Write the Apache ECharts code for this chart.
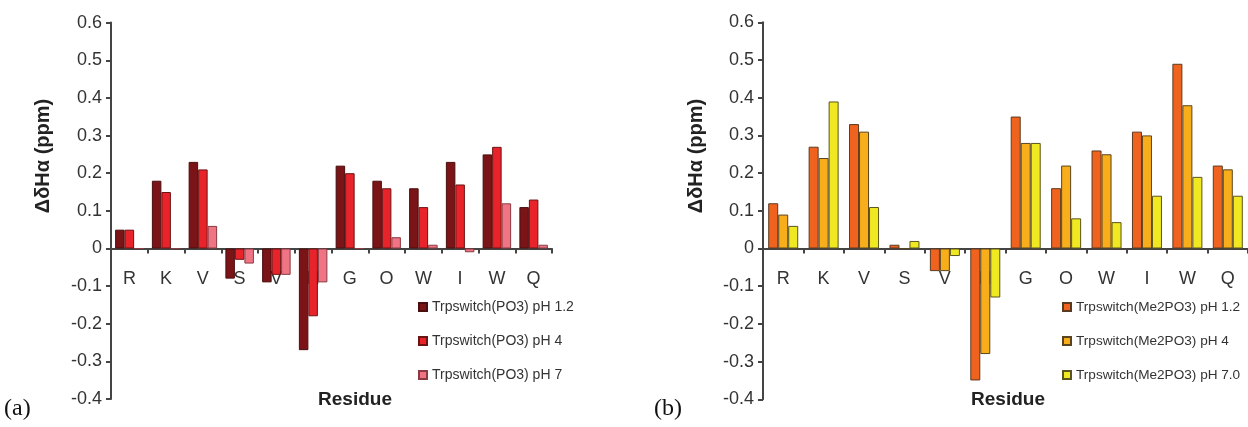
<!DOCTYPE html>
<html>
<head>
<meta charset="utf-8">
<script src="https://cdn.jsdelivr.net/npm/echarts@6/dist/echarts.min.js"></script>
<style>
html,body{margin:0;padding:0;background:#fff;}
#c{width:1248px;height:427px;}
</style>
</head>
<body>
<div id="c"></div>
<script>
var categories = ['R','K','V','S','V','N','G','O','W','I','W','Q'];
var yTicks = { min: -0.4, max: 0.6, interval: 0.1 };

var namesA = ['Trpswitch(PO3) pH 1.2','Trpswitch(PO3) pH 4','Trpswitch(PO3) pH 7'];
var a_pH12 = [0.05,0.18,0.23,-0.08,-0.09,-0.27,0.22,0.18,0.16,0.23,0.25,0.11];
var a_pH4  = [0.05,0.15,0.21,-0.03,-0.07,-0.18,0.20,0.16,0.11,0.17,0.27,0.13];
var a_pH7  = [0,0,0.06,-0.04,-0.07,-0.09,0,0.03,0.01,-0.01,0.12,0.01];

var namesB = ['Trpswitch(Me2PO3) pH 1.2','Trpswitch(Me2PO3) pH 4','Trpswitch(Me2PO3) pH 7.0'];
var b_pH12 = [0.12,0.27,0.33,0.01,-0.06,-0.35,0.35,0.16,0.26,0.31,0.49,0.22];
var b_pH4  = [0.09,0.24,0.31,0,-0.06,-0.28,0.28,0.22,0.25,0.30,0.38,0.21];
var b_pH7  = [0.06,0.39,0.11,0.02,-0.02,-0.13,0.28,0.08,0.07,0.14,0.19,0.14];

var colorsA = ['#7a1416','#e9232a','#ef7585'];
var colorsB = ['#f0631f','#f8ae1a','#f0e820'];

var font = 'Liberation Sans, Arial, sans-serif';
var chart = echarts.init(document.getElementById('c'), null, {renderer:'canvas'});

var grids = [
  {left:111, top:22.6, width:441, height:376.5},
  {left:763, top:22.3, width:492, height:377}
];
function zeroOffset(g){
  return -g.height * (0 - yTicks.min) / (yTicks.max - yTicks.min);
}

function xAx(gi){
  return {
    type:'category', gridIndex:gi, data:categories, position:'bottom',
    offset: zeroOffset(grids[gi]),
    axisLine:{onZero:false, lineStyle:{color:'#444', width:2}},
    axisTick:{show:true, inside:false, length:5, alignWithLabel:false, lineStyle:{color:'#444', width:2}},
    axisLabel:{margin:22, fontSize:18, color:'#333', fontFamily:font, interval:0},
    splitLine:{show:false}
  };
}
function yAx(gi){
  return {
    type:'value', gridIndex:gi, min:yTicks.min, max:yTicks.max, interval:yTicks.interval,
    axisLine:{show:true, lineStyle:{color:'#444', width:2}},
    axisTick:{show:true, length:5, lineStyle:{color:'#444', width:2}},
    axisLabel:{margin:9, fontSize:18, color:'#333', fontFamily:font},
    splitLine:{show:false}
  };
}
function barS(name, data, gi, color, border, bw){
  return {
    name:name, type:'bar', xAxisIndex:gi, yAxisIndex:gi, data:data,
    barWidth:bw, barGap:'0%',
    itemStyle:{color:color, borderColor:border, borderWidth:1},
    emphasis:{disabled:true}, animation:false
  };
}

var option = {
  backgroundColor:'#fff',
  animation:false,
  grid:[
    {left:grids[0].left, top:grids[0].top, width:grids[0].width, height:grids[0].height, containLabel:false},
    {left:grids[1].left, top:grids[1].top, width:grids[1].width, height:grids[1].height, containLabel:false}
  ],
  xAxis:[xAx(0), xAx(1)],
  yAxis:[yAx(0), yAx(1)],
  legend:[
    {data:namesA, orient:'vertical', left:413, top:295, itemWidth:8, itemHeight:8, itemGap:20,
     icon:'rect', textStyle:{fontSize:14, color:'#333', fontFamily:font}, selectedMode:false},
    {data:namesB, orient:'vertical', left:1057, top:295, itemWidth:8, itemHeight:8, itemGap:20,
     icon:'rect', textStyle:{fontSize:13.6, color:'#333', fontFamily:font}, selectedMode:false}
  ],
  series:[
    barS(namesA[0], a_pH12, 0, colorsA[0], '#4a0e0e', 9.5),
    barS(namesA[1], a_pH4, 0, colorsA[1], '#6a1414', 9.5),
    barS(namesA[2], a_pH7, 0, colorsA[2], '#8a3a40', 9.5),
    barS(namesB[0], b_pH12, 1, colorsB[0], '#5a3a20', 10),
    barS(namesB[1], b_pH4, 1, colorsB[1], '#5a4420', 10),
    barS(namesB[2], b_pH7, 1, colorsB[2], '#5a5420', 10)
  ],
  graphic:[
    {type:'text', x:43, y:156, rotation:Math.PI/2, style:{text:'ΔδHα (ppm)', font:'bold 20px '+font, fill:'#222', align:'center', verticalAlign:'middle'}},
    {type:'text', x:696, y:156, rotation:Math.PI/2, style:{text:'ΔδHα (ppm)', font:'bold 20px '+font, fill:'#222', align:'center', verticalAlign:'middle'}},
    {type:'text', x:355, y:400, style:{text:'Residue', font:'bold 19px '+font, fill:'#222', align:'center', verticalAlign:'middle'}},
    {type:'text', x:1008, y:400, style:{text:'Residue', font:'bold 19px '+font, fill:'#222', align:'center', verticalAlign:'middle'}},
    {type:'text', x:4, y:409, style:{text:'(a)', font:'24px Liberation Serif, serif', fill:'#111', align:'left', verticalAlign:'middle'}},
    {type:'text', x:654, y:409, style:{text:'(b)', font:'24px Liberation Serif, serif', fill:'#111', align:'left', verticalAlign:'middle'}}
  ]
};
chart.setOption(option);
</script>
</body>
</html>
